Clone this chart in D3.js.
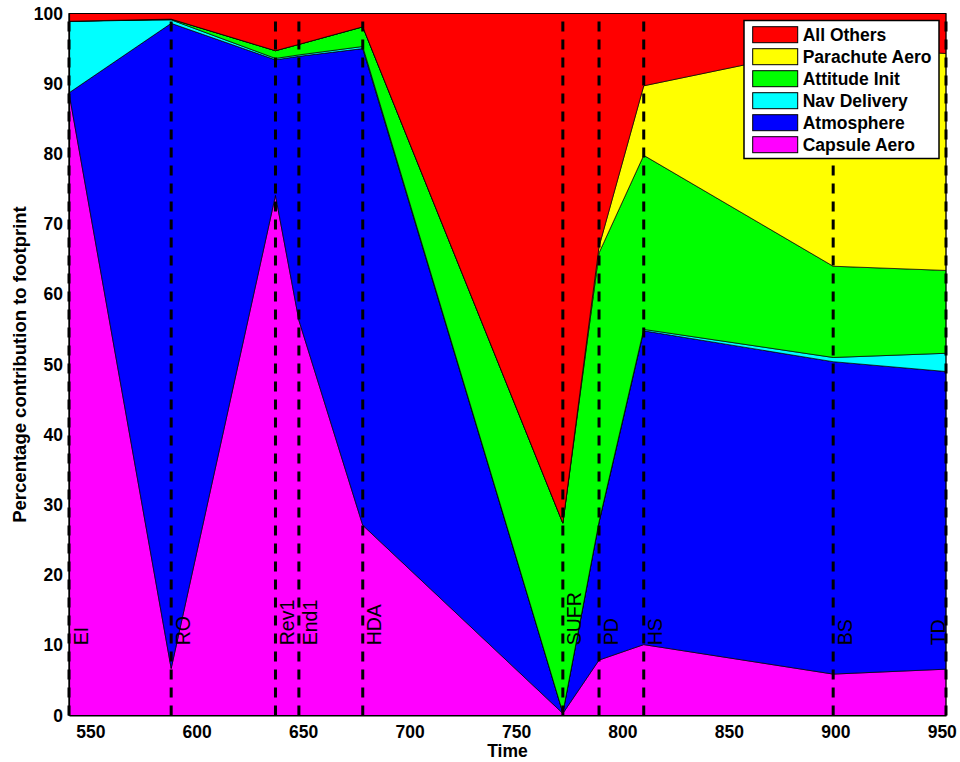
<!DOCTYPE html>
<html>
<head>
<meta charset="utf-8">
<script src="https://cdn.jsdelivr.net/npm/d3@7"></script>
<style>
  html, body { margin: 0; padding: 0; background: #fff; }
  svg { display: block; }
  text { font-family: "Liberation Sans", Arial, Helvetica, sans-serif; }
</style>
</head>
<body>
<svg id="chart" width="960" height="762"></svg>
<script>
// ---- data ----
const times      = [540, 588, 637, 648, 678, 772, 789, 810, 899, 952];
const eventNames = ["EI", "RO", "Rev1", "End1", "HDA", "SUFR", "PD", "HS", "BS", "TD"];
const capsuleAero   = [88.7, 6.7, 74.1, 56.3, 27.1, 0.3, 7.9, 10.1, 5.9, 6.6];
const atmosphere    = [0.0, 91.9, 19.3, 37.6, 67.9, 0.1, 19.6, 44.7, 44.5, 42.4];
const navDelivery   = [10.2, 0.5, 0.2, 0.2, 0.3, 0.0, 0.1, 0.2, 0.6, 2.6];
const attitudeInit  = [0.0, 0.1, 1.1, 1.5, 2.8, 27.0, 38.3, 24.8, 13.0, 11.8];
const parachuteAero = [0.0, 0.0, 0.0, 0.0, 0.0, 0.0, 0.9, 9.9, 31.3, 30.9];
const allOthers     = [1.1, 0.8, 5.3, 4.4, 1.9, 72.6, 33.2, 10.3, 4.7, 5.7];
const seriesNames  = ["Capsule Aero", "Atmosphere", "Nav Delivery", "Attitude Init", "Parachute Aero", "All Others"];
const seriesColors = ["#ff00ff", "#0000ff", "#00ffff", "#00ff00", "#ffff00", "#ff0000"];
const xTicks = [550, 600, 650, 700, 750, 800, 850, 900, 950];
const yTicks = [0, 10, 20, 30, 40, 50, 60, 70, 80, 90, 100];
const eventLabelValue = 10;

// ---- layout ----
const mLeft = 69, mRight = 946, mTop = 13.5, mBottom = 715.5;
const svg = d3.select("#chart");

const x = d3.scaleLinear().domain([540, 952]).range([mLeft, mRight]);
const y = d3.scaleLinear().domain([0, 100]).range([mBottom, mTop]);

const seriesValues = [capsuleAero, atmosphere, navDelivery, attitudeInit, parachuteAero, allOthers];
const rows = times.map((t, i) => {
  const r = { t };
  seriesNames.forEach((n, k) => r[n] = seriesValues[k][i]);
  return r;
});
const stacked = d3.stack().keys(seriesNames)(rows);

const area = d3.area()
  .x(d => x(d.data.t))
  .y0(d => y(d[0]))
  .y1(d => y(d[1]))
  .curve(d3.curveLinear);

svg.append("g").selectAll("path")
  .data(stacked)
  .join("path")
  .attr("d", area)
  .attr("fill", (d, i) => seriesColors[i])
  .attr("stroke", "#000")
  .attr("stroke-width", 0.7)
  .attr("stroke-linejoin", "miter");

// axes frame
svg.append("rect")
  .attr("x", mLeft).attr("y", mTop)
  .attr("width", mRight - mLeft).attr("height", mBottom - mTop)
  .attr("fill", "none").attr("stroke", "#000").attr("stroke-width", 1);

// x axis labels
const xAxis = d3.axisBottom(x).tickValues(xTicks).tickSize(0).tickPadding(10).tickFormat(d3.format("d"));
const gx = svg.append("g").attr("transform", `translate(0,${mBottom})`).call(xAxis);
gx.select(".domain").attr("stroke", "#000").attr("stroke-width", 1.2);
gx.selectAll("text").attr("font-size", 17.5).attr("font-weight", "bold").attr("fill", "#000")
  .attr("font-family", "'Liberation Sans', Arial, sans-serif");

const yAxis = d3.axisLeft(y).tickValues(yTicks).tickSize(0).tickPadding(6).tickFormat(d3.format("d"));
const gy = svg.append("g").attr("transform", `translate(${mLeft},0)`).call(yAxis);
gy.select(".domain").attr("stroke", "#000").attr("stroke-width", 1.2);
gy.selectAll("text").attr("font-size", 17.5).attr("font-weight", "bold").attr("fill", "#000")
  .attr("font-family", "'Liberation Sans', Arial, sans-serif");

// event dashed lines
svg.append("g").selectAll("line")
  .data(times)
  .join("line")
  .attr("x1", d => x(d)).attr("x2", d => x(d))
  .attr("y1", mBottom).attr("y2", mTop)
  .attr("stroke", "#000").attr("stroke-width", 3)
  .attr("stroke-dasharray", "10,8");

// event labels (kept inside the plot box)
svg.append("g").selectAll("text")
  .data(times)
  .join("text")
  .attr("transform", d => `translate(${Math.min(x(d) + 18.5, mRight - 1)},${y(eventLabelValue)}) rotate(-90)`)
  .attr("font-size", 19.5)
  .attr("fill", "#000")
  .text((d, i) => eventNames[i]);

// axis titles
svg.append("text")
  .attr("x", (mLeft + mRight) / 2).attr("y", 757)
  .attr("text-anchor", "middle").attr("font-size", 17.5).attr("font-weight", "bold")
  .text("Time");
svg.append("text")
  .attr("transform", `translate(25.5,${(mTop + mBottom) / 2}) rotate(-90)`)
  .attr("text-anchor", "middle").attr("font-size", 18.5).attr("font-weight", "bold")
  .text("Percentage contribution to footprint");

// legend
const lg = svg.append("g");
lg.append("rect").attr("x", 744).attr("y", 20.5).attr("width", 195).attr("height", 138)
  .attr("fill", "#fff").attr("stroke", "#000").attr("stroke-width", 1.5);
const legendOrder = d3.range(seriesNames.length).reverse();
const items = lg.selectAll("g.item").data(legendOrder).join("g")
  .attr("transform", (d, i) => `translate(0,${26.7 + i * 22})`);
items.append("rect").attr("x", 752.7).attr("y", 0).attr("width", 45).attr("height", 16)
  .attr("fill", d => seriesColors[d]).attr("stroke", "#000").attr("stroke-width", 1);
items.append("text").attr("x", 802.7).attr("y", 14)
  .attr("font-size", 17.5).attr("font-weight", "bold").attr("fill", "#000")
  .text(d => seriesNames[d]);
</script>
</body>
</html>
